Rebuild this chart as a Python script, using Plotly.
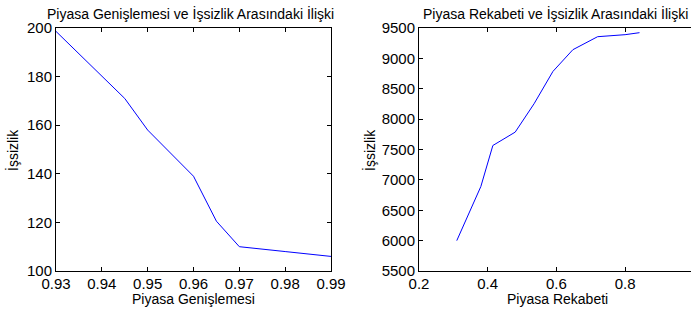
import plotly.graph_objects as go

# Left chart data
genisleme = [0.93, 0.94, 0.945, 0.95, 0.96, 0.965, 0.97, 0.98, 0.99]
issizlik_1 = [198.6, 180.4, 171, 158, 139, 120.5, 110, 108, 106]

# Right chart data
rekabet = [0.31, 0.38, 0.415, 0.48, 0.535, 0.59, 0.648, 0.72, 0.80, 0.842]
issizlik_2 = [6000, 6890, 7566, 7786, 8253, 8786, 9143, 9357, 9390, 9423]

left_xticks = [0.93, 0.94, 0.95, 0.96, 0.97, 0.98, 0.99]
left_yticks = [100, 120, 140, 160, 180, 200]
right_xticks = [0.2, 0.4, 0.6, 0.8]
right_yticks = [5500, 6000, 6500, 7000, 7500, 8000, 8500, 9000, 9500]

W, H = 691, 312
fig = go.Figure()
fig.add_trace(go.Scatter(x=genisleme, y=issizlik_1, mode="lines",
                         line=dict(color="#0000ff", width=1), xaxis="x", yaxis="y"))
fig.add_trace(go.Scatter(x=rekabet, y=issizlik_2, mode="lines",
                         line=dict(color="#0000ff", width=1), xaxis="x2", yaxis="y2"))

font = dict(family="Liberation Sans, Arial, sans-serif", size=15, color="black")
ydom = [1 - 271 / H, 1 - 28 / H]
common = dict(showgrid=False, zeroline=False, showline=True, linecolor="black", linewidth=1,
              ticks="inside", ticklen=4, tickcolor="black", tickfont=font, automargin=False)

fig.update_layout(
    template="none",
    width=W, height=H, margin=dict(l=0, r=0, t=0, b=0, autoexpand=False),
    paper_bgcolor="white", plot_bgcolor="white", showlegend=False,
    xaxis=dict(domain=[56 / W, 331 / W], range=[0.93, 0.99], tickvals=left_xticks,
               ticktext=[f"{v:g}" for v in left_xticks], mirror="ticks", anchor="y",
               ticklabelstandoff=-1, **common),
    yaxis=dict(domain=ydom, range=[100, 200], tickvals=left_yticks, mirror="ticks", anchor="x", **common),
    xaxis2=dict(domain=[419 / W, 1.0], range=[0.2, 0.2 + (691 - 419) / 343.5], tickvals=right_xticks,
                ticktext=[f"{v:g}" for v in right_xticks], mirror="ticks", anchor="y2",
                ticklabelstandoff=-1, **common),
    yaxis2=dict(domain=ydom, range=[5500, 9500], tickvals=right_yticks, mirror=False, anchor="x2", **common),
)

tfont = dict(family="Liberation Sans, Arial, sans-serif", size=14, color="black")
ann = [
    dict(text="Piyasa Genişlemesi ve İşsizlik Arasındaki İlişki", x=191 / W, y=1 - 14 / H),
    dict(text="Piyasa Rekabeti ve İşsizlik Arasındaki İlişki", x=555 / W, y=1 - 14 / H),
    dict(text="Piyasa Genişlemesi", x=193 / W, y=1 - 299 / H),
    dict(text="Piyasa Rekabeti", x=557 / W, y=1 - 299 / H),
    dict(text="İşsizlik", x=12 / W, y=1 - 150 / H, textangle=-90),
    dict(text="İşsizlik", x=369 / W, y=1 - 150 / H, textangle=-90),
]
for a in ann:
    fig.add_annotation(xref="paper", yref="paper", showarrow=False, xanchor="center",
                       yanchor="middle", font=tfont, **a)

fig.write_html("out.html", config={"displayModeBar": False},
               post_script="document.body.style.margin='0';document.body.style.overflow='hidden';")
